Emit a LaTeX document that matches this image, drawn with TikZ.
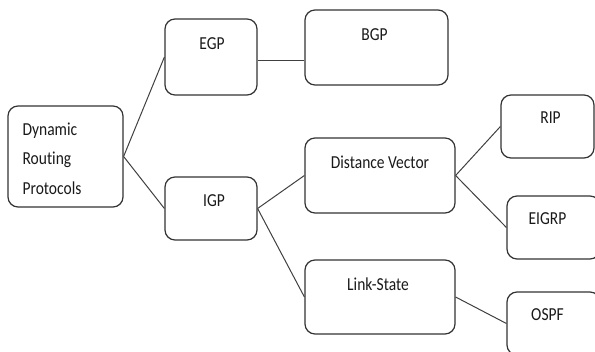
\documentclass[tikz,border=0pt]{standalone}
\usepackage{fontspec}
\setmainfont{Carlito}[Ligatures=NoCommon]
\newcommand\tall[1]{\scalebox{1}[1.18]{#1}}
\tikzset{
  box/.style={draw=black!80, line width=1.2pt, rounded corners=10pt, inner sep=0pt},
  tag/.style={font=\fontsize{15.5pt}{18pt}\selectfont, text=black!90, inner sep=0pt},
  link/.style={draw=black!75, line width=1pt}
}
\begin{document}
\begin{tikzpicture}[x=1pt,y=-1pt]
\useasboundingbox (0,0) rectangle (595,352);

% root
\node[box, minimum width=115pt, minimum height=101pt] (dyn) at (65.5,156.5) {};
\node[tag, anchor=north west, align=left, font=\fontsize{15.5pt}{29.5pt}\selectfont]
  (dyn-t) at ([xshift=15pt,yshift=-17pt]dyn.north west)
  {\tall{Dynamic}\\\tall{Routing}\\\tall{Protocols}};

% second level
\node[box, minimum width=92pt, minimum height=76pt] (egp) at (211,57) {};
\node[box, minimum width=92pt, minimum height=63pt] (igp) at (211,208.5) {};
\node[tag] (egp-t) at ([xshift=1pt,yshift=-25pt]egp.north) {\tall{EGP}};
\node[tag] (igp-t) at ([xshift=3pt,yshift=-24pt]igp.north) {\tall{IGP}};

% third level
\node[box, minimum width=143pt, minimum height=75pt] (bgp) at (376.5,47.5) {};
\node[box, minimum width=150pt, minimum height=75pt] (dv) at (380,175.5) {};
\node[box, minimum width=150pt, minimum height=74pt] (ls) at (380,297) {};
\node[tag] (bgp-t) at ([xshift=-2pt,yshift=-25pt]bgp.north) {\tall{BGP}};
\node[tag] (dv-t) at ([yshift=-25pt]dv.north) {\tall{Distance Vector}};
\node[tag] (ls-t) at ([xshift=-2pt,yshift=-25pt]ls.north) {\tall{Link-State}};

% leaves
\node[box, minimum width=93pt, minimum height=63pt] (rip) at (547.5,126.5) {};
\node[box, minimum width=93pt, minimum height=63pt] (eigrp) at (553.5,227.5) {};
\node[box, minimum width=93pt, minimum height=63pt] (ospf) at (553.5,323.5) {};
\node[tag] (rip-t) at ([xshift=3pt,yshift=-23pt]rip.north) {\tall{RIP}};
\node[tag] (eigrp-t) at ([xshift=-6pt,yshift=-23pt]eigrp.north) {\tall{EIGRP}};
\node[tag] (ospf-t) at ([xshift=-6pt,yshift=-23pt]ospf.north) {\tall{OSPF}};

% connectors
\draw[link] (dyn.east) -- (egp.west);
\draw[link] (dyn.east) -- (igp.west);
\draw[link] ([yshift=-4pt]egp.east) -- ([yshift=-4pt]egp.east -| bgp.west);
\draw[link] (igp.east) -- (dv.west);
\draw[link] (igp.east) -- (ls.west);
\draw[link] (dv.east) -- (rip.west);
\draw[link] (dv.east) -- (eigrp.west);
\draw[link] (ls.east) -- (ospf.west);
\end{tikzpicture}
\end{document}
